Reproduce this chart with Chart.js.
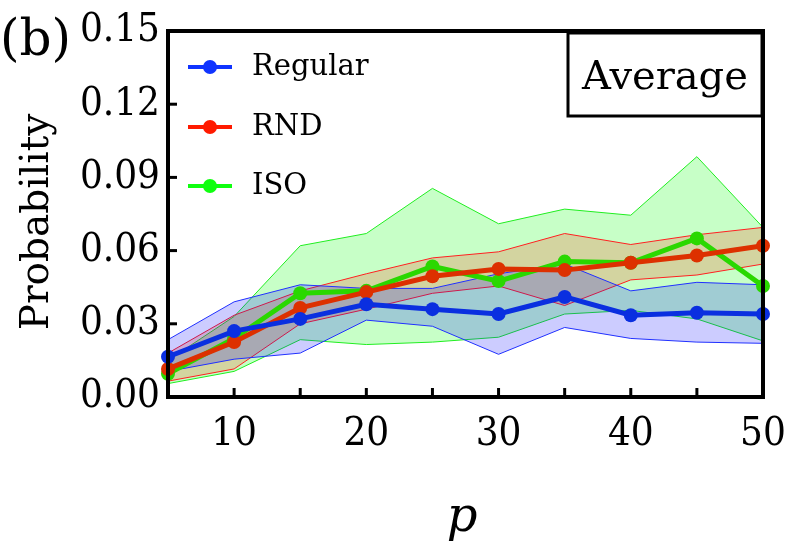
<!DOCTYPE html>
<html>
<head>
<meta charset="utf-8">
<script src="https://cdn.jsdelivr.net/npm/chart.js@4.4.1/dist/chart.umd.min.js"></script>
<style>
  html, body { margin: 0; padding: 0; background: #fff; }
  #wrap { width: 789px; height: 560px; position: relative; }
</style>
</head>
<body>
<div id="wrap"><canvas id="chart" width="789" height="560"></canvas></div>
<script>
const pValues = [5, 10, 15, 20, 25, 30, 35, 40, 45, 50];

const regularMean  = [0.0165, 0.0270, 0.0320, 0.0380, 0.0360, 0.0340, 0.0410, 0.0335, 0.0345, 0.0340];
const regularUpper = [0.0235, 0.0390, 0.0460, 0.0445, 0.0445, 0.0505, 0.0545, 0.0435, 0.0470, 0.0460];
const regularLower = [0.0105, 0.0155, 0.0180, 0.0315, 0.0290, 0.0175, 0.0285, 0.0240, 0.0225, 0.0220];

const rndMean  = [0.0115, 0.0225, 0.0365, 0.0430, 0.0495, 0.0525, 0.0520, 0.0550, 0.0580, 0.0620];
const rndUpper = [0.0180, 0.0335, 0.0435, 0.0505, 0.0570, 0.0595, 0.0670, 0.0625, 0.0665, 0.0695];
const rndLower = [0.0065, 0.0115, 0.0300, 0.0360, 0.0425, 0.0455, 0.0375, 0.0480, 0.0500, 0.0545];

const isoMean  = [0.0095, 0.0240, 0.0425, 0.0435, 0.0535, 0.0475, 0.0555, 0.0550, 0.0650, 0.0455];
const isoUpper = [0.0150, 0.0330, 0.0620, 0.0670, 0.0855, 0.0710, 0.0770, 0.0745, 0.0985, 0.0695];
const isoLower = [0.0055, 0.0105, 0.0235, 0.0215, 0.0225, 0.0245, 0.0340, 0.0355, 0.0320, 0.0230];

const seriesNames = ['Regular', 'RND', 'ISO'];
const yTicks = [0, 0.03, 0.06, 0.09, 0.12, 0.15];

const serif = '"DejaVu Serif", "Liberation Serif", serif';
const serifNarrow = '"DejaVu Serif Condensed", "DejaVu Serif", serif';

const lineColors = ['#0a2fe0', '#dd3000', '#2ad800'];
const legendColors = ['#1034ff', '#ff1a00', '#10ff10'];
const bandFills = ['rgba(0, 0, 255, 0.2)', 'rgba(255, 40, 0, 0.2)', 'rgba(0, 255, 0, 0.22)'];
const bandEdges = ['#2030ff', '#ff2020', '#20ee20'];

const pts = arr => arr.map((v, i) => ({ x: pValues[i], y: v }));

function band(lower, upper, k) {
  return [
    { data: pts(lower), borderColor: bandEdges[k], borderWidth: 1, pointRadius: 0, fill: false, order: 2 },
    { data: pts(upper), borderColor: bandEdges[k], borderWidth: 1, pointRadius: 0, fill: '-1', backgroundColor: bandFills[k], order: 2 }
  ];
}

function line(mean, k) {
  return {
    data: pts(mean), borderColor: lineColors[k], backgroundColor: lineColors[k],
    borderWidth: 5, pointRadius: 7, pointBorderWidth: 0, fill: false, clip: false, order: 1
  };
}

const decorations = {
  id: 'decorations',
  afterDraw(chart) {
    const ctx = chart.ctx;
    const a = chart.chartArea;
    const xs = chart.scales.x, ys = chart.scales.y;
    ctx.save();
    ctx.strokeStyle = '#000';
    // inward tick marks
    ctx.lineWidth = 3;
    for (let p = 10; p < 50; p += 5) {
      const px = xs.getPixelForValue(p);
      ctx.beginPath(); ctx.moveTo(px, a.bottom); ctx.lineTo(px, a.bottom - 9); ctx.stroke();
    }
    yTicks.slice(1, -1).forEach(v => {
      const py = ys.getPixelForValue(v);
      ctx.beginPath(); ctx.moveTo(a.left, py); ctx.lineTo(a.left + 9, py); ctx.stroke();
    });
    // frame
    ctx.lineWidth = 4;
    ctx.strokeRect(a.left, a.top, a.right - a.left, a.bottom - a.top);

    // legend
    ctx.font = '29px ' + serif;
    ctx.textBaseline = 'alphabetic';
    ctx.textAlign = 'left';
    const rowsY = [67, 127, 186];
    seriesNames.forEach((name, k) => {
      const y = rowsY[k];
      ctx.strokeStyle = legendColors[k];
      ctx.lineWidth = 4;
      ctx.beginPath(); ctx.moveTo(a.left + 20, y); ctx.lineTo(a.left + 64, y); ctx.stroke();
      ctx.fillStyle = legendColors[k];
      ctx.beginPath(); ctx.arc(a.left + 42, y, 7, 0, Math.PI * 2); ctx.fill();
      ctx.fillStyle = '#000';
      ctx.fillText(name, a.left + 84, y + 8);
    });

    // "Average" box
    ctx.fillStyle = '#fff';
    ctx.fillRect(567, 32, 196, 85);
    ctx.strokeStyle = '#000';
    ctx.lineWidth = 3;
    ctx.strokeRect(568, 33, 194, 83);
    ctx.fillStyle = '#000';
    ctx.font = '40px ' + serif;
    ctx.textAlign = 'center';
    ctx.fillText('Average', 665, 89);

    // panel label
    ctx.textAlign = 'left';
    ctx.font = '50px ' + serif;
    ctx.fillText('(b)', 0, 55);

    // x axis title
    ctx.textAlign = 'center';
    ctx.font = 'italic 48px ' + serif;
    ctx.fillText('p', 462, 531);

    // y axis title
    ctx.save();
    ctx.translate(48, 222);
    ctx.rotate(-Math.PI / 2);
    ctx.font = '39px ' + serif;
    ctx.fillText('Probability', 0, 0);
    ctx.restore();

    ctx.restore();
  }
};

new Chart(document.getElementById('chart'), {
  type: 'line',
  data: {
    datasets: [
      ...band(regularLower, regularUpper, 0),
      ...band(rndLower, rndUpper, 1),
      ...band(isoLower, isoUpper, 2),
      line(regularMean, 0),
      line(rndMean, 1),
      line(isoMean, 2)
    ]
  },
  options: {
    responsive: false,
    animation: false,
    layout: { padding: { left: 0, right: 26, top: 31, bottom: 0 } },
    plugins: { legend: { display: false }, tooltip: { enabled: false } },
    elements: { line: { tension: 0 } },
    scales: {
      x: {
        type: 'linear',
        min: 5,
        max: 50,
        afterFit(scale) { scale.height = 163; scale.paddingLeft = 0; scale.paddingRight = 0; },
        grid: { display: false, drawTicks: false },
        border: { display: false },
        ticks: {
          stepSize: 5,
          padding: 14,
          maxRotation: 0,
          autoSkip: false,
          color: '#000',
          font: { family: serifNarrow, size: 40 },
          callback: v => (v % 10 === 0 ? String(v) : '')
        }
      },
      y: {
        min: 0,
        max: 0.15,
        afterFit(scale) { scale.width = 168; scale.paddingTop = 0; scale.paddingBottom = 0; },
        afterBuildTicks(scale) { scale.ticks = yTicks.map(v => ({ value: v })); },
        grid: { display: false, drawTicks: false },
        border: { display: false },
        ticks: {
          padding: 8,
          color: '#000',
          font: { family: serifNarrow, size: 40 },
          callback: v => Number(v).toFixed(2)
        }
      }
    }
  },
  plugins: [decorations]
});
</script>
</body>
</html>
